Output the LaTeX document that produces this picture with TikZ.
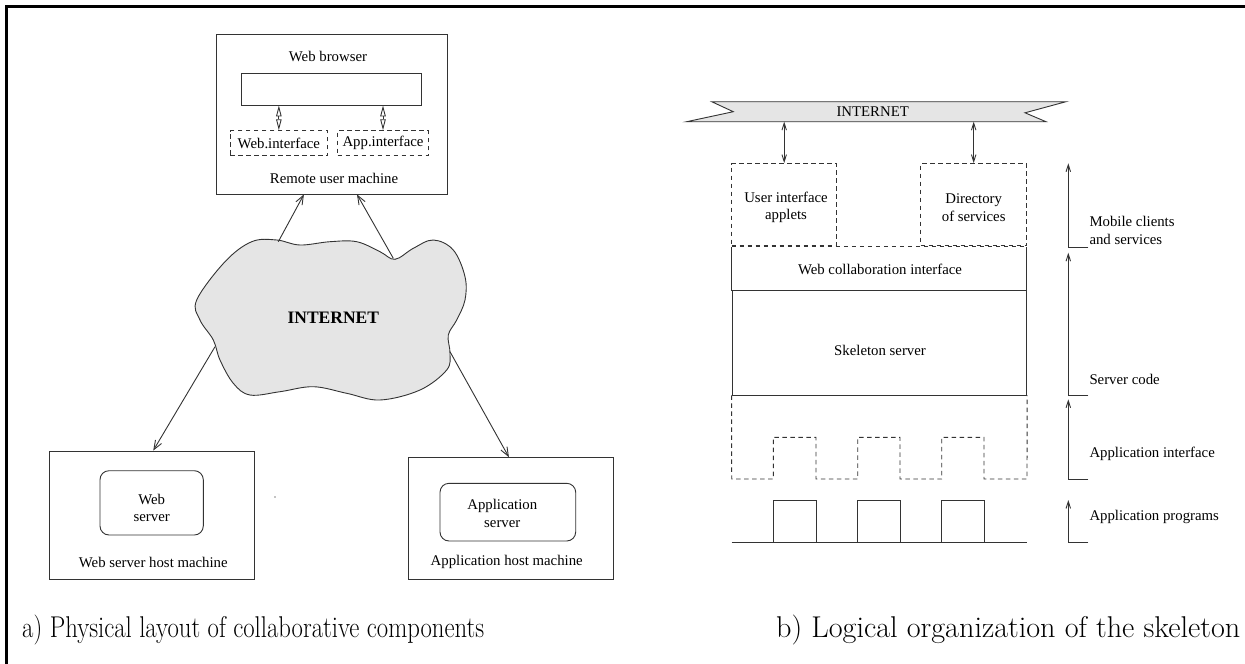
\documentclass[tikz,border=0pt]{standalone}
\usepackage{fontspec}
\newfontfamily\tms{Liberation Serif}
\usetikzlibrary{arrows.meta,calc}
\begin{document}
\begin{tikzpicture}[x=1pt,y=-1pt,
  ln/.style={draw=black!80, line width=0.9pt},
  box/.style={ln, rectangle, inner sep=0pt},
  dsh/.style={dash pattern=on 4.5pt off 3.5pt},
  dbox/.style={box, dsh},
  rbox/.style={box, rounded corners=9pt},
  lbl/.style={font=\tms\fontsize{14.8}{17.5}\selectfont, inner sep=0pt, align=center},
  lbll/.style={lbl, align=left, anchor=west},
  arr/.style={ln, -{Straight Barb[length=9pt,width=7pt]}},
  uarr/.style={ln, -{Straight Barb[length=7pt,width=4.5pt]}},
  darr/.style={ln, {Straight Barb[length=7pt,width=4.5pt]}-{Straight Barb[length=7pt,width=4.5pt]}},
  diam/.style={ln, {Triangle[open,length=11pt,width=5.5pt]}-{Triangle[open,length=11pt,width=5.5pt]}},
  captxt/.style={inner sep=0pt, anchor=base west}
]
\useasboundingbox (0,0) rectangle (1245,664);
% frame
\draw[line width=3pt] (6,664) -- (6,6) -- (1245,6);

% ---------------- left: physical layout ----------------
\node[box, minimum width=231pt, minimum height=160pt] (rum) at (331.5,114) {};
\node[lbl] (wbt) at (328,56) {Web browser};
\node[box, minimum width=179.3pt, minimum height=31.7pt] (brw) at (331.35,89.15) {};
\node[dbox, minimum width=97.7pt, minimum height=25pt] (wi) at (278.85,143.2) {};
\node[lbl] (wit) at (wi) {Web.interface};
\node[dbox, minimum width=90.6pt, minimum height=25pt] (ai) at (383,143.2) {};
\node[lbl] (ait) at (ai) {App.interface};
\draw[diam] (brw.south -| wi.north) -- (wi.north);
\draw[diam] (brw.south -| ai.north) -- (ai.north);
\node[lbl] (rumt) at (334,178) {Remote user machine};

% cloud
\draw[ln, fill=gray!20] plot[smooth cycle, tension=0.6] coordinates {
 (196.7,300) (225,261.7) (251.7,241.7) (276.7,240) (300,245) (330,241.7)
 (356.7,241.7) (380,251.7) (395,259.3) (413.3,248.3) (433.3,240) (453.3,250)
 (465,276.7) (465,300) (456.7,320) (448.3,335) (450,353.3) (446.7,370)
 (420,390) (380,400) (346.7,393.3) (313.3,386.7) (280,391.7) (250,395)
 (233.3,383.3) (220,360) (213.3,340) (200,320)};
\node[font=\tms\bfseries\fontsize{17.5}{20}\selectfont, inner sep=0pt] (cloud) at (333.3,317.3) {INTERNET};
\coordinate (cA) at (278.3,241.7);
\coordinate (cB) at (393.3,258.3);
\coordinate (cC) at (215,346.7);
\coordinate (cD) at (450,351.7);

% bottom machines
\node[box, minimum width=205pt, minimum height=128pt] (wsh) at (151.8,515) {};
\node[rbox, minimum width=103.3pt, minimum height=64.3pt] (ws) at (151.65,502.85) {};
\node[lbl] (wst) at (151.7,508) {Web\\server};
\node[lbl] (wsht) at (153.3,562.3) {Web server host machine};

\node[box, minimum width=205pt, minimum height=121.3pt] (ahm) at (510.8,518.35) {};
\node[rbox, minimum width=135.7pt, minimum height=57.7pt] (as) at (507.85,512.15) {};
\node[lbl] (ast) at (502.3,513.3) {Application\\server};
\node[lbl] (ahmt) at (506.7,562.3) {Application host machine};

\fill (275,497) circle (0.6pt);

\draw[arr] (cA) -- ($(rum.south west)!0.381!(rum.south east)$);
\draw[arr] (cB) -- ($(rum.south west)!0.610!(rum.south east)$);
\draw[arr] (cC) -- ($(wsh.north west)!0.507!(wsh.north east)$);
\draw[arr] (cD) -- ($(ahm.north west)!0.491!(ahm.north east)$);

% ---------------- right: logical organization ----------------
\draw[ln, fill=gray!20] (711.7,101.7) -- (1066,101.7) -- (1025,112.8) -- (1046,121.7)
   -- (686.7,121.7) -- (733.3,111.7) -- cycle;
\node[lbl] (inet) at (872.7,111.7) {INTERNET};
\coordinate (bb) at (880,121.7);

\node[dbox, minimum width=105pt, minimum height=82pt] (uia) at (784.2,204.5) {};
\node[lbl] (uiat) at (786,207.5) {User interface\\applets};
\node[dbox, minimum width=106pt, minimum height=82pt] (dos) at (973.7,204.5) {};
\node[lbl] (dost) at (973.7,207.5) {Directory\\of services};
\draw[darr] (uia.north |- bb) -- (uia.north);
\draw[darr] (dos.north |- bb) -- (dos.north);

\node[minimum width=294.7pt, minimum height=43pt, inner sep=0pt] (wc) at (879.35,268.5) {};
\draw[ln] (wc.north west) -- (wc.south west) -- (wc.south east) -- (wc.north east);
\draw[ln, dsh] (wc.north west) -- (wc.north east);
\node[lbl] (wct) at (880,269) {Web collaboration interface};
\node[box, minimum width=294.7pt, minimum height=105pt] (ss) at (879.35,342.5) {};
\node[lbl] (sst) at (880,350) {Skeleton server};

% application interface (dashed with teeth)
\draw[ln, dsh] (ss.south west) -- (731.7,479) -- (773.3,479) -- (773.3,437.3) -- (816,437.3)
  -- (816,479) -- (857.7,479) -- (857.7,437.3) -- (900,437.3) -- (900,479)
  -- (941.7,479) -- (941.7,437.3) -- (984,437.3) -- (984,479) -- (1027,479) -- (ss.south east);

% application programs
\node[box, minimum width=42.7pt, minimum height=42.3pt] (p1) at (794.65,521.15) {};
\node[box, minimum width=42.3pt, minimum height=42.3pt] (p2) at (878.85,521.15) {};
\node[box, minimum width=42.3pt, minimum height=42.3pt] (p3) at (962.85,521.15) {};
\coordinate (bl) at (731.7,542.3);
\coordinate (br) at (1027,542.3);
\draw[ln] (bl) -- (br);

% layer arrows
\coordinate (m1) at (1068.3,247);
\coordinate (m2) at (1068.3,395);
\coordinate (m3) at (1068.3,479);
\coordinate (m4) at (1068.3,542.3);
\draw[uarr] ($(m1)+(20,0)$) -- (m1) -- (1068.3,163.3);
\draw[uarr] ($(m2)+(20,0)$) -- (m2) -- (1068.3,252.7);
\draw[uarr] ($(m3)+(20,0)$) -- (m3) -- (1068.3,399.3);
\draw[uarr] ($(m4)+(20,0)$) -- (m4) -- (1068.3,500);
\node[lbll] (l1) at (1089.3,230.5) {Mobile clients\\and services};
\node[lbll] (l2) at (1089.3,379) {Server code};
\node[lbll] (l3) at (1089.3,454) {Application interface};
\node[lbll] (l4) at (1089.3,517) {Application programs};

% captions
\node[captxt] (capa) at (22,637) {\resizebox{462pt}{22.5pt}{\fontsize{20}{24}\selectfont a) Physical layout of collaborative components}};
\node[captxt] (capb) at (776,637) {\resizebox{464pt}{22.5pt}{\fontsize{20}{24}\selectfont b) Logical organization of the skeleton}};
\end{tikzpicture}
\end{document}
